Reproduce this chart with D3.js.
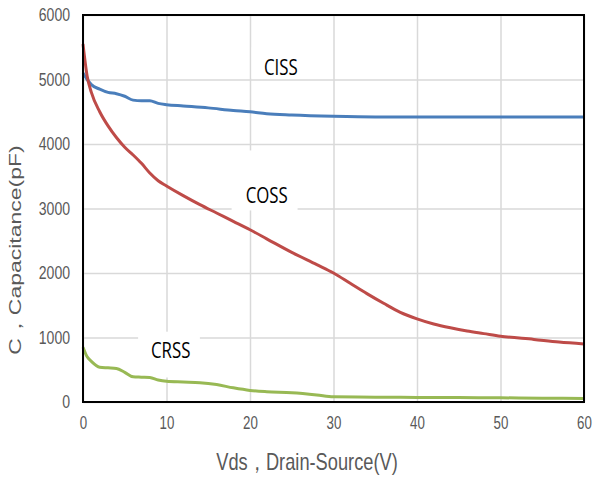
<!DOCTYPE html>
<html>
<head>
<meta charset="utf-8">
<script src="https://cdn.jsdelivr.net/npm/d3@7"></script>
<style>
  body { margin: 0; background: #fff; }
  svg { display: block; }
</style>
</head>
<body>
<div id="chart"></div>
<script>
// データ
const xTicks = [0, 10, 20, 30, 40, 50, 60];
const yTicks = [0, 1000, 2000, 3000, 4000, 5000, 6000];

const ciss = [[0,5100],[0.5,5000],[1,4920],[2,4850],[3,4800],[4,4780],[5,4740],[6,4680],[7,4670],[8,4670],[9,4630],[10,4610],[12,4590],[15,4560],[18,4520],[20,4500],[22,4470],[25,4450],[30,4430],[35,4420],[40,4420],[45,4420],[50,4420],[55,4420],[60,4420]];
const coss = [[0,5550],[0.5,5050],[1,4800],[2,4500],[3,4280],[4,4100],[5,3950],[6,3830],[7,3700],[8,3550],[9,3430],[10,3350],[12,3200],[14,3060],[16,2930],[18,2800],[20,2670],[22,2530],[25,2320],[28,2130],[30,2000],[32,1840],[34,1680],[36,1530],[38,1390],[40,1290],[42,1210],[44,1150],[46,1100],[48,1060],[50,1020],[54,970],[57,930],[60,900]];
const crss = [[0,850],[0.5,700],[1,630],[2,540],[3,530],[4,520],[5,460],[6,390],[7,385],[8,380],[9,340],[10,320],[12,310],[14,300],[16,270],[18,220],[20,180],[22,160],[25,145],[28,110],[30,80],[35,75],[40,70],[45,68],[50,65],[55,60],[60,55]];

const seriesNames = ["CISS", "COSS", "CRSS"];
const seriesColors = ["#4a7ebb", "#be4b48", "#98b954"];
// ラベル位置 (データ座標)
const labelPos = [[23.7, 5150], [22, 3175], [10.5, 770]];

const W = 594, H = 478;
const m = { left: 83, top: 15, right: 10, bottom: 76 };
const iw = W - m.left - m.right, ih = H - m.top - m.bottom;

const svg = d3.select("#chart").append("svg").attr("width", W).attr("height", H);
const g = svg.append("g").attr("transform", `translate(${m.left},${m.top})`);

const x = d3.scaleLinear().domain([0, 60]).range([0, iw]);
const y = d3.scaleLinear().domain([0, 6000]).range([ih, 0]);

const font = "'Liberation Sans', Arial, sans-serif";

// 横に縮める (元画像は横方向に圧縮されている)
function squish(sel, k) {
  sel.each(function () {
    const w = this.getComputedTextLength();
    d3.select(this).attr("textLength", w * k).attr("lengthAdjust", "spacingAndGlyphs");
  });
}

// グリッド
g.append("g")
  .call(d3.axisLeft(y).tickValues(yTicks).tickSize(-iw).tickFormat(""))
  .call(s => s.select(".domain").remove())
  .selectAll("line").attr("stroke", "#d9d9d9").attr("stroke-width", 1.5);
g.append("g")
  .attr("transform", `translate(0,${ih})`)
  .call(d3.axisBottom(x).tickValues(xTicks).tickSize(-ih).tickFormat(""))
  .call(s => s.select(".domain").remove())
  .selectAll("line").attr("stroke", "#d9d9d9").attr("stroke-width", 1.5);

// 目盛りラベル
g.append("g")
  .call(d3.axisLeft(y).tickValues(yTicks).tickSize(0).tickPadding(13).tickFormat(d3.format("d")))
  .call(s => s.select(".domain").remove())
  .selectAll("text")
  .attr("font-family", font).attr("font-size", 18).attr("fill", "#595959")
  .call(squish, 0.78);
g.append("g")
  .attr("transform", `translate(0,${ih})`)
  .call(d3.axisBottom(x).tickValues(xTicks).tickSize(0).tickPadding(14).tickFormat(d3.format("d")))
  .call(s => s.select(".domain").remove())
  .selectAll("text")
  .attr("font-family", font).attr("font-size", 18).attr("fill", "#595959")
  .attr("transform", "scale(0.74,1)");

// ラベルの白背景
const boxes = [[20.2, 5500, 27, 5020], [17.8, 3900, 25.7, 2970], [6.6, 1090, 14, 380]];
boxes.forEach(b => {
  g.append("rect")
    .attr("x", x(b[0])).attr("y", y(b[1]))
    .attr("width", x(b[2]) - x(b[0])).attr("height", y(b[3]) - y(b[1]))
    .attr("fill", "#fff");
});

// 曲線
const line = d3.line()
  .x(d => x(d[0]))
  .y(d => y(d[1]))
  .curve(d3.curveMonotoneX);

[ciss, coss, crss].forEach((data, i) => {
  g.append("path")
    .datum(data)
    .attr("fill", "none")
    .attr("stroke", seriesColors[i])
    .attr("stroke-width", 3)
    .attr("d", line);
});

// 枠
g.append("rect")
  .attr("width", iw).attr("height", ih)
  .attr("fill", "none").attr("stroke", "#000").attr("stroke-width", 2);

// 系列ラベル
seriesNames.forEach((name, i) => {
  g.append("text")
    .attr("x", x(labelPos[i][0])).attr("y", y(labelPos[i][1]))
    .attr("text-anchor", "middle").attr("dominant-baseline", "middle")
    .attr("font-family", "'Open Sans', sans-serif")
    .attr("font-size", 21).attr("fill", "#000")
    .text(name)
    .call(squish, 0.8);
});

// 軸タイトル
svg.append("text")
  .attr("x", 307).attr("y", 470)
  .attr("text-anchor", "middle")
  .attr("font-family", font)
  .attr("font-size", 24).attr("fill", "#595959")
  .text("Vds，Drain-Source(V)")
  .call(squish, 0.76);

svg.append("g")
  .attr("transform", "translate(21,250) scale(0.72,1)")
  .append("text")
  .attr("transform", "rotate(-90)")
  .attr("text-anchor", "middle")
  .attr("font-family", font)
  .attr("font-size", 23).attr("fill", "#595959")
  .text("C，Capacitance(pF)");
</script>
</body>
</html>
